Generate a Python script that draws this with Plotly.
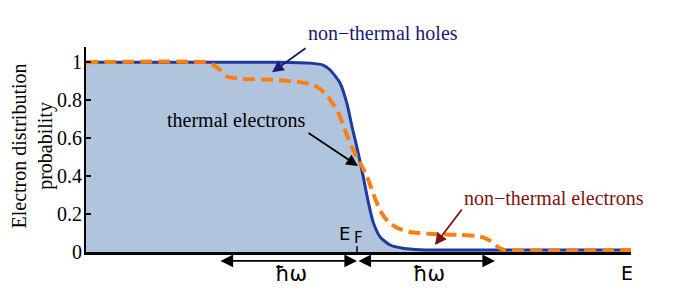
import plotly.graph_objects as go

# Energy axis in units of hbar*omega, relative to the Fermi level
EF = 0.0
HW = 1.0
X_RANGE = [-1.964, 1.986]
Y_RANGE = [0, 1.08]

# Thermal (Fermi-Dirac) distribution
thermal_x = [-1.964, -0.558, -0.341, -0.246, -0.196, -0.123, -0.072, -0.036, 0.0,
             0.036, 0.080, 0.116, 0.167, 0.239, 0.333, 0.457, 0.674, 1.986]
thermal_y = [1.0, 1.0, 0.995, 0.985, 0.96, 0.89, 0.78, 0.66, 0.55,
             0.43, 0.27, 0.16, 0.08, 0.037, 0.02, 0.012, 0.01, 0.01]

# Non-thermal distribution
nonthermal_x = [-1.964, -1.101, -1.051, -0.993, -0.942, -0.848, -0.609, -0.413, -0.319,
                -0.268, -0.217, -0.174, -0.138, -0.101, -0.065, -0.022, 0.022, 0.072,
                0.116, 0.167, 0.225, 0.297, 0.384, 0.478, 0.601, 0.746, 0.855, 0.913,
                0.964, 1.036, 1.072, 1.986]
nonthermal_y = [1.0, 1.0, 0.99, 0.96, 0.925, 0.913, 0.907, 0.895, 0.88,
                0.86, 0.825, 0.78, 0.74, 0.67, 0.60, 0.53, 0.47, 0.40,
                0.31, 0.22, 0.16, 0.125, 0.105, 0.098, 0.093, 0.09, 0.085, 0.077,
                0.06, 0.02, 0.01, 0.01]

y_ticks = [0, 0.2, 0.4, 0.6, 0.8, 1]
y_tick_labels = ["0", "0.2", "0.4", "0.6", "0.8", "1"]

SERIF = "Liberation Serif, Times New Roman, serif"
SANS = "DejaVu Sans, Arial, sans-serif"


def py(v):
    """data y -> paper y (for labels outside the axis range)"""
    return (v - Y_RANGE[0]) / (Y_RANGE[1] - Y_RANGE[0])


fig = go.Figure()
fig.add_trace(go.Scatter(
    x=thermal_x, y=thermal_y, mode="lines",
    line=dict(color="#1f3a9e", width=3, shape="spline", smoothing=0.6),
    fill="tozeroy", fillcolor="#b0c4de", hoverinfo="skip", showlegend=False))
fig.add_trace(go.Scatter(
    x=nonthermal_x, y=nonthermal_y, mode="lines",
    line=dict(color="#ff7f0e", width=4, dash="12px,6px", shape="spline", smoothing=0.6),
    hoverinfo="skip", showlegend=False))

fig.update_layout(
    width=681, height=298,
    margin=dict(l=86, r=50, t=47, b=46),
    paper_bgcolor="white", plot_bgcolor="white",
    xaxis=dict(range=X_RANGE, showgrid=False, zeroline=False, showticklabels=False,
               ticks="", showline=True, linecolor="black", linewidth=2.5),
    yaxis=dict(range=Y_RANGE, showgrid=False, zeroline=False, showline=True,
               linecolor="black", linewidth=2, ticks="inside", ticklen=5, tickwidth=2,
               tickcolor="black", tickvals=y_ticks, ticktext=y_tick_labels,
               ticklabelstandoff=-2,
               tickfont=dict(family=SERIF, size=20, color="black")),
)

# Fermi level tick
fig.add_shape(type="line", x0=EF, x1=EF, y0=0, y1=0.03, xref="x", yref="y",
              line=dict(color="black", width=1.5))

C = dict(xanchor="center", yanchor="middle")
ann = []
# y title
ann.append(dict(text="Electron distribution<br>probability", xref="paper", yref="paper",
                x=-0.099, y=0.515, textangle=-90, showarrow=False,
                font=dict(family=SERIF, size=20, color="black"), **C))
# hbar omega arrows
for x0, x1 in [(EF - HW, EF), (EF, EF + HW)]:
    ann.append(dict(text="", x=x1, y=py(-0.047), ax=x0, ay=0, xref="x", yref="paper",
                    axref="x", ayref="pixel", showarrow=True, arrowhead=2, startarrowhead=2,
                    arrowside="end+start", arrowsize=1.4, startarrowsize=1.4, arrowwidth=1.8,
                    arrowcolor="black", standoff=0, startstandoff=0))
    ann.append(dict(text="ħω", x=(x0 + x1) / 2 + 0.025, y=py(-0.116), xref="x", yref="paper",
                    showarrow=False, font=dict(family=SANS, size=21, color="black"), **C))
# E labels
ann.append(dict(text="E", x=1.957, y=py(-0.11), xref="x", yref="paper", showarrow=False,
                font=dict(family=SANS, size=19, color="black"), **C))
ann.append(dict(text="E", x=EF - 0.087, y=0.10, xref="x", yref="y", showarrow=False,
                font=dict(family=SANS, size=18, color="black"), **C))
ann.append(dict(text="F", x=EF + 0.011, y=0.076, xref="x", yref="y", showarrow=False,
                font=dict(family=SANS, size=15, color="black"), **C))

# Labels with arrows
labels = [
    ("non−thermal holes", "#191970", 0.185, 1.153, (-0.362, 1.079), (-0.616, 0.947)),
    ("thermal electrons", "black", -0.877, 0.695, (-0.362, 0.632), (0.007, 0.453)),
    ("non−thermal electrons", "#7f1212", 1.431, 0.284, (0.768, 0.232), (0.565, 0.037)),
]
for txt, col, tx, ty, tail, head in labels:
    ann.append(dict(text=txt, x=tx, y=py(ty), xref="x", yref="paper", showarrow=False,
                    font=dict(family=SERIF, size=20, color=col), **C))
    ann.append(dict(text="", x=head[0], y=head[1], ax=tail[0], ay=tail[1], xref="x",
                    yref="y", axref="x", ayref="y", showarrow=True, arrowhead=2,
                    arrowsize=1.3, arrowwidth=1.8, arrowcolor=col, standoff=0))

fig.update_layout(annotations=ann)
fig.write_html("out.html", config={"displayModeBar": False},
               post_script="document.body.style.margin='0';")
